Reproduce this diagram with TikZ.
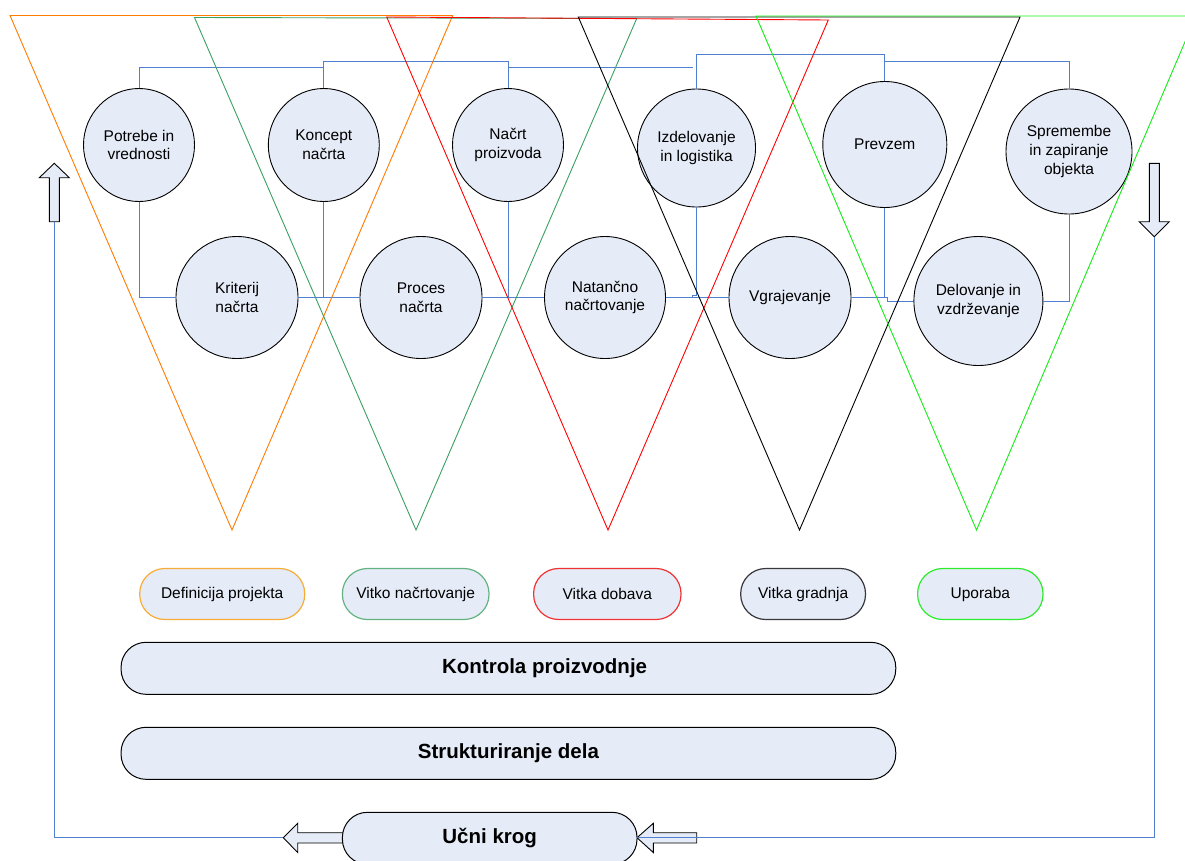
\documentclass[tikz,border=0pt]{standalone}
\usepackage{fontspec}
\setmainfont{Liberation Sans}
\usetikzlibrary{shapes.geometric}

\definecolor{shapefill}{RGB}{230,236,247}
\definecolor{linkblue}{RGB}{80,128,208}
\definecolor{vorange}{RGB}{255,122,0}
\definecolor{vgreen}{RGB}{58,160,98}
\definecolor{vred}{RGB}{255,0,0}
\definecolor{vlime}{RGB}{20,235,20}
\definecolor{porange}{RGB}{248,172,56}
\definecolor{pgreen}{RGB}{100,178,130}
\definecolor{pred}{RGB}{240,50,50}
\definecolor{pgray}{RGB}{55,55,60}
\definecolor{plime}{RGB}{45,235,45}

\begin{document}
\begin{tikzpicture}[x=1pt,y=-1pt,
  phase/.style={ellipse, draw=black, line width=0.9pt, fill=shapefill, inner sep=0pt,
    align=center, font=\fontsize{15.5}{18.8}\selectfont},
  link/.style={draw=linkblue, line width=1pt},
  vee/.style={line width=0.9pt, line join=miter},
  tag/.style={draw, line width=1.2pt, fill=shapefill, rounded corners=25pt,
    minimum height=51pt, inner sep=0pt, font=\fontsize{15.5}{18.8}\selectfont},
  band/.style={draw=black, line width=1pt, fill=shapefill, rounded corners=25pt,
    minimum height=52pt, inner sep=0pt},
  bandtext/.style={font=\fontsize{20.5}{24}\selectfont\bfseries},
  blockarrow/.style={draw=black, line width=0.9pt, fill=shapefill, line join=miter}
]
\useasboundingbox (0,0) rectangle (1185,860);
\clip (0,0) rectangle (1185,860);

% guide levels for the connector brackets
\coordinate (tierA) at (0,67.3);
\coordinate (tierB) at (0,61.7);
\coordinate (tierC) at (0,54.3);
\coordinate (rowY)  at (0,297.5);
\coordinate (loopY) at (0,837.7);

% phases, upper row
\node[phase, minimum width=111pt, minimum height=113pt] (needs)    at (139,145)     {Potrebe in\\vrednosti};
\node[phase, minimum width=111pt, minimum height=113pt] (concept)  at (323.8,145)   {Koncept\\načrta};
\node[phase, minimum width=111pt, minimum height=113pt] (draft)    at (508,145)     {Načrt\\proizvoda};
\node[phase, minimum width=118pt, minimum height=118pt] (making)   at (696.5,148)   {Izdelovanje\\in logistika};
\node[phase, minimum width=124pt, minimum height=126pt] (handover) at (884.8,144.5) {Prevzem};
\node[phase, minimum width=126pt, minimum height=125pt] (change)   at (1069,151.5)  {Spremembe\\in zapiranje\\objekta};
% phases, lower row
\node[phase, minimum width=122pt, minimum height=122pt] (criteria) at (237,297.5)   {Kriterij\\načrta};
\node[phase, minimum width=122pt, minimum height=122pt] (process)  at (421,297.5)   {Proces\\načrta};
\node[phase, minimum width=121pt, minimum height=122pt] (detail)   at (605,297.5)   {Natančno\\načrtovanje};
\node[phase, minimum width=122pt, minimum height=122pt] (build)    at (790,297.5)   {Vgrajevanje};
\node[phase, minimum width=129pt, minimum height=129pt] (operate)  at (978.4,301)   {Delovanje in\\vzdrževanje};

% brackets above the upper row
\coordinate (tierAend) at (692.6,67.3);
\draw[link] (needs.north) -- (needs.north |- tierA) -- (concept.north |- tierA);
\draw[link] (concept.north) -- (concept.north |- tierB) -- (draft.north |- tierB) -- (draft.north);
\draw[link] (draft.north |- tierA) -- (tierAend);
\draw[link] (making.north) -- (making.north |- tierC) -- (handover.north |- tierC) -- (handover.north);
\draw[link] (handover.north |- tierB) -- (change.north |- tierB) -- (change.north);

% chain along the lower row
\draw[link] (needs.south) -- (needs.south |- rowY) -- (criteria.west);
\draw[link] (criteria.east) -- (process.west);
\draw[link] (concept.south) -- (concept.south |- rowY);
\draw[link] (process.east) -- (detail.west);
\draw[link] (draft.south) -- (draft.south |- rowY);
\draw[link] (detail.east) -- (build.west);
\draw[link] (making.south) |- (692.5,295.5) -- (692.5,297.5);
\draw[link] (build.east) -- (887,297.5) -- (887,301) -- (operate.west);
\draw[link] (handover.south) -- (handover.south |- rowY);
\draw[link] (operate.east) -| (change.south);

% side block arrows
\draw[blockarrow] (54.3,163.3) -- (69.3,177.7) -- (59.3,177.7) -- (59.3,221.7)
  -- (49.3,221.7) -- (49.3,177.7) -- (39.3,177.7) -- cycle;
\coordinate (upFoot) at (54.3,221.7);
\draw[blockarrow] (1154.3,236.7) -- (1169.3,221.7) -- (1159.3,221.7) -- (1159.3,163.3)
  -- (1149.3,163.3) -- (1149.3,221.7) -- (1139.3,221.7) -- cycle;
\coordinate (downTip) at (1154.3,236.7);

% block arrows beside the learning loop
\draw[blockarrow] (283.3,837.7) -- (297.7,823.3) -- (297.7,832.7) -- (345,832.7)
  -- (345,843) -- (297.7,843) -- (297.7,852.5) -- cycle;
\coordinate (leftTip) at (283.3,837.7);
\draw[blockarrow] (637,837.7) -- (653.3,823.3) -- (653.3,832.7) -- (696.7,832.7)
  -- (696.7,843) -- (653.3,843) -- (653.3,852.5) -- cycle;
\coordinate (rightTip) at (637,837.7);

% legend tags
\node[tag, draw=porange, minimum width=165pt]   (tagdef)    at (222.2,594) {Definicija projekta};
\node[tag, draw=pgreen,  minimum width=146.6pt] (taglean)   at (415.7,594) {Vitko načrtovanje};
\node[tag, draw=pred,    minimum width=147.4pt] (tagsupply) at (607.3,594) {Vitka dobava};
\node[tag, draw=pgray,   minimum width=124.8pt] (tagbuild)  at (803.1,594) {Vitka gradnja};
\node[tag, draw=plime,   minimum width=125.4pt] (taguse)    at (980.3,594) {Uporaba};

% wide bands
\node[band, minimum width=774.7pt] (control) at (508.4,668.3) {};
\node[bandtext] (controltext) at (544.6,668.3) {Kontrola proizvodnje};
\node[band, bandtext, minimum width=774.7pt] (structure) at (508.4,753.3) {Strukturiranje dela};
\node[band, bandtext, minimum width=294.6pt] (learn) at (489.7,838.3) {Učni krog};

% feedback loop
\draw[link] (upFoot) -- (upFoot |- loopY) -- (leftTip);
\draw[link] (downTip) -- (downTip |- loopY) -- (rightTip);

% phase funnels
\draw[vee, vorange] (10,15.5) -- (452.7,15.5) -- (232,530) -- cycle;
\draw[vee, vgreen] (194.5,17.5) -- (636.7,18.5) -- (416,530) -- cycle;
\draw[vee, vred] (386.7,17) -- (828.3,20) -- (608,530) -- cycle;
\draw[vee, black] (578.3,17) -- (1020,17) -- (799.5,530) -- cycle;
\draw[vee, vlime] (756,16) -- (1196,16) -- (976.5,530) -- cycle;
\end{tikzpicture}
\end{document}
